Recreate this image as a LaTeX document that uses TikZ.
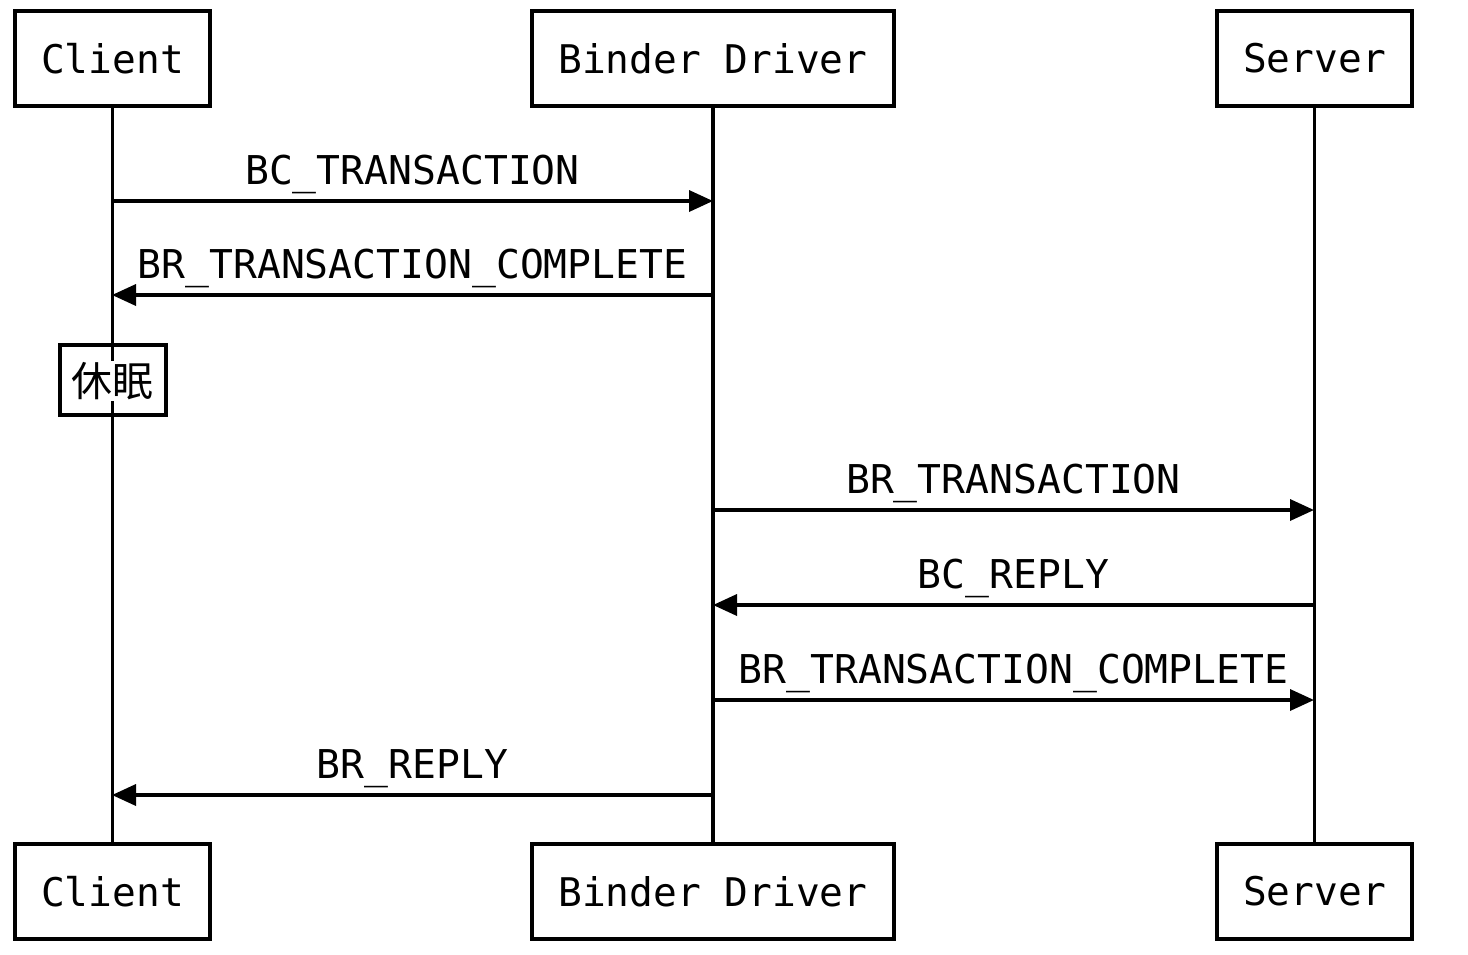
\documentclass[tikz,border=0pt]{standalone}
\usepackage{fontspec}
\setmonofont{DejaVu Sans Mono}
\newfontfamily\cjk{Noto Sans CJK SC}
\usetikzlibrary{arrows.meta}
\begin{document}
\begin{tikzpicture}[x=1pt,y=-1pt,
  actor/.style={draw,line width=4.5pt,minimum width=195pt,minimum height=95pt,inner sep=0pt,
    font=\ttfamily\fontsize{39.5}{42}\selectfont},
  wideactor/.style={actor,minimum width=362pt},
  lifeline/.style={line width=3.5pt},
  msg/.style={line width=3.5pt,-{Triangle[length=24pt,width=21pt]}},
  msglabel/.style={anchor=base,inner sep=0pt,font=\ttfamily\fontsize{39.7}{42}\selectfont}]
\useasboundingbox (0,0) rectangle (1468,954);
\fill[white] (0,0) rectangle (1468,954);

% participants, top and bottom
\node[actor]     (ct) at (112.5,58.5)  {Client};
\node[wideactor] (bt) at (713,58.5)    {Binder Driver};
\node[actor]     (st) at (1314.5,58.5) {Server};
\node[actor]     (cb) at (112.5,891.5)  {Client};
\node[wideactor] (bb) at (713,891.5)    {Binder Driver};
\node[actor]     (sb) at (1314.5,891.5) {Server};

% lifelines
\draw[lifeline] (ct.south) -- (cb.north);
\draw[lifeline] (bt.south) -- (bb.north);
\draw[lifeline] (st.south) -- (sb.north);

% sleep marker on the client lifeline
\node[draw,line width=4pt,minimum width=106pt,minimum height=70pt] (sleep) at (112.5,380) {};
\node[fill=white,inner sep=1pt,font=\cjk\fontsize{41}{44}\selectfont] (sleeplbl) at (112.5,381) {休眠};

% message anchors on the lifelines
\coordinate (c1) at (112,201);  \coordinate (b1) at (713,201);
\coordinate (c2) at (112,295);  \coordinate (b2) at (713,295);
\coordinate (b3) at (713,510);  \coordinate (s3) at (1314,510);
\coordinate (b4) at (713,605);  \coordinate (s4) at (1314,605);
\coordinate (b5) at (713,700);  \coordinate (s5) at (1314,700);
\coordinate (c6) at (112,795);  \coordinate (b6) at (713,795);

% messages
\draw[msg] (c1) -- (b1) node[msglabel,midway,yshift=17pt] (m1) {BC\_TRANSACTION};
\draw[msg] (b2) -- (c2) node[msglabel,midway,yshift=17pt] (m2) {BR\_TRANSACTION\_COMPLETE};
\draw[msg] (b3) -- (s3) node[msglabel,midway,yshift=17pt] (m3) {BR\_TRANSACTION};
\draw[msg] (s4) -- (b4) node[msglabel,midway,yshift=17pt] (m4) {BC\_REPLY};
\draw[msg] (b5) -- (s5) node[msglabel,midway,yshift=17pt] (m5) {BR\_TRANSACTION\_COMPLETE};
\draw[msg] (b6) -- (c6) node[msglabel,midway,yshift=17pt] (m6) {BR\_REPLY};
\end{tikzpicture}
\end{document}
